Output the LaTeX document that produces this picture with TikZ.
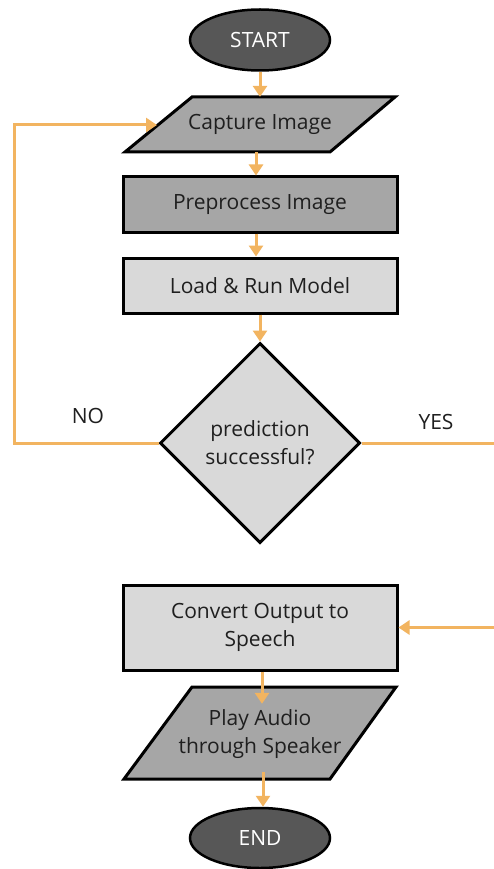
\documentclass[tikz,border=0pt]{standalone}
\usepackage{fontspec}
\setmainfont{Open Sans}
\usetikzlibrary{arrows.meta,shapes.geometric}
\definecolor{arr}{HTML}{F2B460}
\definecolor{darkfill}{HTML}{575757}
\definecolor{midfill}{HTML}{A6A6A6}
\definecolor{lightfill}{HTML}{D9D9D9}
\begin{document}
\begin{tikzpicture}[x=1pt,y=-1pt,
  lbl/.style={font=\fontsize{21}{28}\selectfont, text=black!88},
  term/.style={ellipse, draw=black, line width=2.5pt, fill=darkfill,
    minimum width=140pt, minimum height=61pt, inner sep=0pt, lbl, text=white},
  proc/.style={rectangle, draw=black, line width=3pt, minimum width=274pt,
    minimum height=55pt, inner sep=0pt, align=center, lbl},
  io/.style={draw=black, line width=3pt, fill=midfill, line join=miter},
  txt/.style={align=center, inner sep=0pt, lbl},
  conn/.style={draw=arr, line width=3pt, -{Triangle[width=14pt,length=11pt]}}]
\useasboundingbox (0,0) rectangle (494,869);
\fill[white] (0,0) rectangle (494,869);

% START
\node[term] (start) at (260,40) {START};

% Capture Image (parallelogram)
\draw[io] (192,97) -- (395,97) -- (330,152) -- (125,152) -- cycle;
\node[txt, minimum width=270pt, minimum height=55pt] (cap) at (260,124.5) {Capture Image};
\coordinate (capL) at (157,125);

% Preprocess
\node[proc, fill=midfill] (pre) at (260,204.5) {Preprocess Image};

% Load & Run
\node[proc, fill=lightfill] (load) at (260,285.5) {Load \& Run Model};

% Decision
\node[diamond, draw=black, line width=3pt, fill=lightfill, aspect=1,
  minimum width=200pt, minimum height=200pt, inner sep=0pt, txt] (dia) at (260,443)
  {prediction\\successful?};

\node[lbl] (no) at (88,416) {NO};
\node[lbl] (yes) at (436,422) {YES};

% Convert
\node[proc, fill=lightfill, minimum height=85pt] (conv) at (260,627.5)
  {Convert Output to\\Speech};

% Play Audio (parallelogram)
\draw[io] (192,687) -- (396,687) -- (330,779) -- (124,779) -- cycle;
\node[txt, minimum width=272pt, minimum height=92pt] (play) at (260,734)
  {Play Audio\\through Speaker};

% END
\node[term, minimum height=60pt] (end) at (260,838) {END};

% connectors
\draw[conn] (start.south) -- (cap.north);
\draw[conn] ([xshift=-4pt]cap.south) -- ([xshift=-4pt]pre.north);
\draw[conn] ([xshift=-4pt]pre.south) -- ([xshift=-4pt]load.north);
\draw[conn] (load.south) -- (dia.north);
\coordinate (yr) at (495,443);
\draw[conn] (dia.west) -- ++(-144,0) |- (capL);
\draw[conn] (dia.east) -- (yr) |- (conv.east);
\draw[conn] ([xshift=2pt]conv.south) -- ([xshift=2pt,yshift=-16pt]play.north);
\draw[conn] ([xshift=3pt,yshift=8pt]play.south) -- ([xshift=3pt]end.north);
\end{tikzpicture}
\end{document}
